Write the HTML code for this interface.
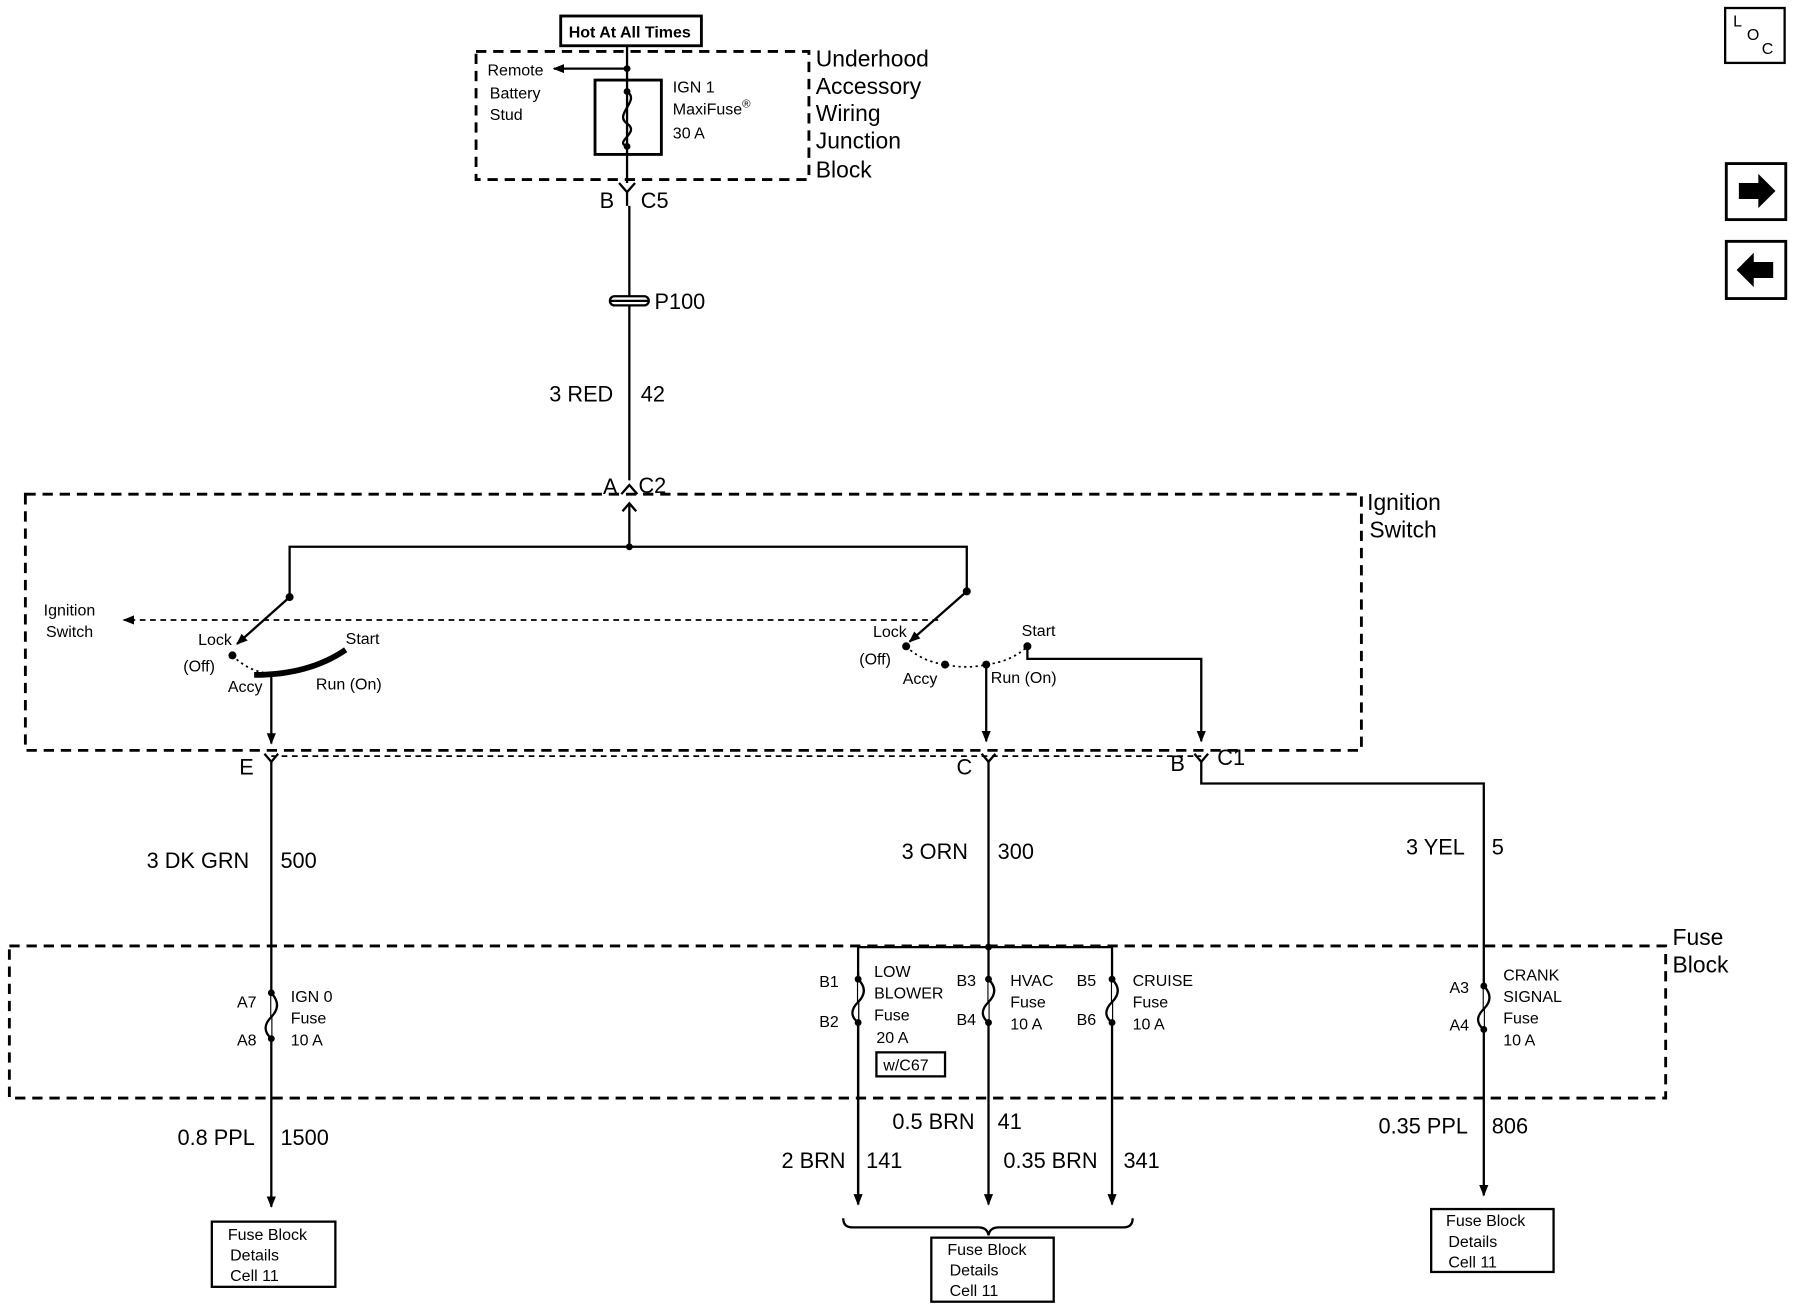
<!DOCTYPE html>
<html><head><meta charset="utf-8"><style>
html,body{margin:0;padding:0;background:#fff}
svg{display:block}
text{font-family:"Liberation Sans",Arial,sans-serif;fill:#000}
.s{font-size:14px}
.m{font-size:19px}
.l{font-size:20px}
</style></head><body>
<svg width="1794" height="1312" viewBox="0 0 1568 1147" xmlns="http://www.w3.org/2000/svg">
<defs>
<marker id="ar" markerWidth="10" markerHeight="10" refX="9" refY="5" orient="auto" markerUnits="userSpaceOnUse"><path d="M0,1 L10,5 L0,9 Z" fill="#000"/></marker>
</defs>
<g stroke="#000" fill="none" stroke-width="2">
<!-- top -->
<rect x="490" y="14" width="123" height="26" stroke-width="2.5"/>
<rect x="416" y="45" width="291" height="112" stroke-dasharray="9,6" stroke-width="2.5"/>
<line x1="548" y1="40" x2="548" y2="160"/>
<line x1="548" y1="60" x2="484" y2="60" marker-end="url(#ar)"/>
<rect x="520" y="70" width="58" height="65" stroke-width="2.5"/>
<path d="M548,80 C560,88 536,100 548,108 C560,116 536,124 548,128"/>
<path d="M541,160 L548,168 L555,160 M548,168 L548,180"/>
<line x1="550" y1="180" x2="550" y2="420"/>
<rect x="533" y="259" width="34" height="8" rx="4" fill="#fff"/>
<line x1="533" y1="263" x2="567" y2="263"/>
<path d="M543,432 L550,424 L557,432"/>
<!-- ignition switch box -->
<rect x="22" y="432" width="1168" height="224" stroke-dasharray="9,6" stroke-width="2.5"/>
<line x1="550" y1="440" x2="550" y2="478"/>
<path d="M544,447 L550,440 L556,447"/>
<path d="M253,522 L253,478 L845,478 L845,517"/>
<line x1="253" y1="522" x2="207" y2="563" marker-end="url(#ar)"/>
<line x1="845" y1="517" x2="795" y2="561" marker-end="url(#ar)"/>
<line x1="820" y1="542" x2="108" y2="542" stroke-dasharray="5,4" stroke-width="1.5" marker-end="url(#ar)"/>
<path d="M203,573 Q215,585 230,588" stroke-dasharray="2,3" stroke-width="1.5"/>
<path d="M222,590 Q270,590 302,568" stroke-width="5"/>
<line x1="237" y1="590" x2="237" y2="650" marker-end="url(#ar)"/>
<path d="M792,565 Q805,578 826,581 Q845,585 862,581 Q885,578 898,565" stroke-dasharray="2,3" stroke-width="1.5"/>
<line x1="862" y1="581" x2="862" y2="648" marker-end="url(#ar)"/>
<path d="M898,565 L898,576 L1050,576 L1050,648" marker-end="url(#ar)"/>
<!-- connectors row -->
<line x1="237" y1="661" x2="1050" y2="661" stroke-dasharray="5,4" stroke-width="1.5"/>
<path d="M231,659 L237,666 L243,659 M858,659 L864,666 L870,659 M1044,659 L1050,666 L1056,659"/>
<line x1="237" y1="666" x2="237" y2="1055" marker-end="url(#ar)"/>
<line x1="864" y1="666" x2="864" y2="828"/>
<path d="M1050,666 L1050,685 L1297,685 L1297,1045" marker-end="url(#ar)"/>
<!-- fuse block -->
<rect x="8" y="827" width="1448" height="133" stroke-dasharray="9,6" stroke-width="2.5"/>
<path d="M750,1053 L750,828 L972,828 L972,1053" marker-end="url(#ar)"/>
<line x1="864" y1="828" x2="864" y2="1053" marker-end="url(#ar)"/>
<line x1="750" y1="850" x2="750" y2="1053" marker-end="url(#ar)"/>
<rect x="766" y="920" width="60" height="21"/>
<rect x="185" y="1068" width="108" height="57"/>
<rect x="814" y="1082" width="107" height="56"/>
<rect x="1251" y="1057" width="107" height="55"/>
<path d="M737,1065 Q737,1073 745,1073 L855,1073 Q863,1073 864,1080 Q865,1073 873,1073 L982,1073 Q990,1073 990,1065"/>
<!-- right icons -->
<rect x="1508" y="7" width="52" height="48"/>
<rect x="1509" y="143" width="52" height="49" stroke-width="2.5"/>
<rect x="1509" y="211" width="52" height="50" stroke-width="2.5"/>
</g>
<g fill="#fff" stroke="#000" stroke-width="2">
<!-- fuse symbols in block -->
<path d="M237,868 Q247,879 237,889 Q227,899 237,908"/>
<path d="M750,856 Q760,866 750,876 Q740,886 750,894"/>
<path d="M864,856 Q874,866 864,876 Q854,886 864,894"/>
<path d="M972,856 Q982,866 972,876 Q962,886 972,894"/>
<path d="M1297,862 Q1307,872 1297,882 Q1287,892 1297,900"/>
</g>
<g fill="#000">
<circle cx="548" cy="60" r="3"/><circle cx="548" cy="80" r="3"/><circle cx="548" cy="128" r="3"/>
<circle cx="550" cy="478" r="3"/><circle cx="253" cy="522" r="3.5"/><circle cx="845" cy="517" r="3.5"/>
<circle cx="203" cy="573" r="3.5"/><circle cx="792" cy="565" r="3.5"/><circle cx="826" cy="581" r="3.5"/><circle cx="862" cy="581" r="3.5"/><circle cx="898" cy="565" r="3.5"/>
<circle cx="864" cy="828" r="3"/>
<circle cx="237" cy="868" r="3"/><circle cx="237" cy="908" r="3"/>
<circle cx="750" cy="856" r="3"/><circle cx="750" cy="894" r="3"/>
<circle cx="864" cy="856" r="3"/><circle cx="864" cy="894" r="3"/>
<circle cx="972" cy="856" r="3"/><circle cx="972" cy="894" r="3"/>
<circle cx="1297" cy="862" r="3"/><circle cx="1297" cy="900" r="3"/>
<path d="M1520,160 L1537,160 L1537,152 L1552,167 L1537,182 L1537,174 L1520,174 Z"/>
<path d="M1550,229 L1533,229 L1533,221 L1518,236 L1533,251 L1533,243 L1550,243 Z"/>
</g>
<text class="s" x="497" y="33" font-weight="bold">Hot At All Times</text>
<text class="s" x="426" y="66">Remote</text>
<text class="s" x="428" y="86">Battery</text>
<text class="s" x="428" y="105">Stud</text>
<text class="s" x="588" y="81">IGN 1</text>
<text class="s" x="588" y="100">MaxiFuse<tspan font-size="10" dy="-6">®</tspan></text>
<text class="s" x="588" y="121">30 A</text>
<text class="l" x="713" y="58">Underhood</text>
<text class="l" x="713" y="82">Accessory</text>
<text class="l" x="713" y="106">Wiring</text>
<text class="l" x="713" y="130">Junction</text>
<text class="l" x="713" y="155">Block</text>
<text class="m" x="524" y="182">B</text>
<text class="m" x="560" y="182">C5</text>
<text class="m" x="572" y="270">P100</text>
<text class="m" x="480" y="351">3 RED</text>
<text class="m" x="560" y="351">42</text>
<text class="m" x="527" y="432">A</text>
<text class="m" x="558" y="431">C2</text>
<text class="l" x="1195" y="446">Ignition</text>
<text class="l" x="1197" y="470">Switch</text>
<text class="s" x="38" y="538">Ignition</text>
<text class="s" x="40" y="557">Switch</text>
<text class="s" x="173" y="564">Lock</text>
<text class="s" x="160" y="587">(Off)</text>
<text class="s" x="199" y="605">Accy</text>
<text class="s" x="276" y="603">Run (On)</text>
<text class="s" x="302" y="563">Start</text>
<text class="s" x="763" y="557">Lock</text>
<text class="s" x="751" y="581">(Off)</text>
<text class="s" x="789" y="598">Accy</text>
<text class="s" x="866" y="597">Run (On)</text>
<text class="s" x="893" y="556">Start</text>
<text class="m" x="209" y="677">E</text>
<text class="m" x="836" y="677">C</text>
<text class="m" x="1023" y="674">B</text>
<text class="m" x="1064" y="669">C1</text>
<text class="m" x="128" y="759">3 DK GRN</text>
<text class="m" x="245" y="759">500</text>
<text class="m" x="788" y="751">3 ORN</text>
<text class="m" x="872" y="751">300</text>
<text class="m" x="1229" y="747">3 YEL</text>
<text class="m" x="1304" y="747">5</text>
<text class="l" x="1462" y="826">Fuse</text>
<text class="l" x="1462" y="850">Block</text>
<text class="s" x="207" y="881">A7</text>
<text class="s" x="207" y="914">A8</text>
<text class="s" x="254" y="876">IGN 0</text>
<text class="s" x="254" y="895">Fuse</text>
<text class="s" x="254" y="914">10 A</text>
<text class="s" x="716" y="863">B1</text>
<text class="s" x="716" y="898">B2</text>
<text class="s" x="764" y="854">LOW</text>
<text class="s" x="764" y="873">BLOWER</text>
<text class="s" x="764" y="892">Fuse</text>
<text class="s" x="766" y="912">20 A</text>
<text class="s" x="772" y="936">w/C67</text>
<text class="s" x="836" y="862">B3</text>
<text class="s" x="836" y="896">B4</text>
<text class="s" x="883" y="862">HVAC</text>
<text class="s" x="883" y="881">Fuse</text>
<text class="s" x="883" y="900">10 A</text>
<text class="s" x="941" y="862">B5</text>
<text class="s" x="941" y="896">B6</text>
<text class="s" x="990" y="862">CRUISE</text>
<text class="s" x="990" y="881">Fuse</text>
<text class="s" x="990" y="900">10 A</text>
<text class="s" x="1267" y="868">A3</text>
<text class="s" x="1267" y="901">A4</text>
<text class="s" x="1314" y="857">CRANK</text>
<text class="s" x="1314" y="876">SIGNAL</text>
<text class="s" x="1314" y="895">Fuse</text>
<text class="s" x="1314" y="914">10 A</text>
<text class="m" x="155" y="1001">0.8 PPL</text>
<text class="m" x="245" y="1001">1500</text>
<text class="m" x="780" y="987">0.5 BRN</text>
<text class="m" x="872" y="987">41</text>
<text class="m" x="683" y="1021">2 BRN</text>
<text class="m" x="757" y="1021">141</text>
<text class="m" x="877" y="1021">0.35 BRN</text>
<text class="m" x="982" y="1021">341</text>
<text class="m" x="1205" y="991">0.35 PPL</text>
<text class="m" x="1304" y="991">806</text>
<text class="s" x="199" y="1084">Fuse Block</text>
<text class="s" x="201" y="1102">Details</text>
<text class="s" x="201" y="1120">Cell 11</text>
<text class="s" x="828" y="1097">Fuse Block</text>
<text class="s" x="830" y="1115">Details</text>
<text class="s" x="830" y="1133">Cell 11</text>
<text class="s" x="1264" y="1072">Fuse Block</text>
<text class="s" x="1266" y="1090">Details</text>
<text class="s" x="1266" y="1108">Cell 11</text>
<text class="s" x="1515" y="23" font-size="13">L</text>
<text class="s" x="1527" y="35" font-size="13">O</text>
<text class="s" x="1540" y="47" font-size="13">C</text>
</svg>
</body></html>
